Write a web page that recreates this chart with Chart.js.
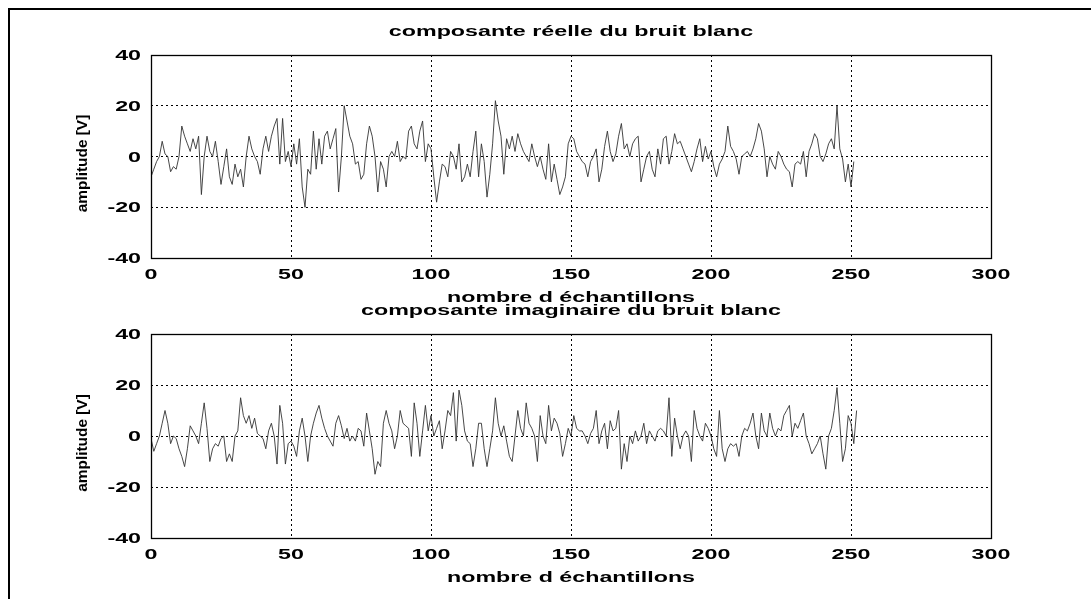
<!DOCTYPE html>
<html>
<head>
<meta charset="utf-8">
<script src="https://cdn.jsdelivr.net/npm/chart.js@4/dist/chart.umd.min.js"></script>
<style>
  html, body { margin: 0; padding: 0; background: #fff; overflow: hidden; }
  #page { position: relative; width: 1091px; height: 599px; }
  #frame { position: absolute; left: 8px; top: 8px; width: 1200px; height: 700px;
           border-left: 2px solid #000; border-top: 2px solid #000; }
  canvas { position: absolute; left: 0; }
  #realCanvas { top: 0; }
  #imagCanvas { top: 300px; }
</style>
</head>
<body>
<div id="page">
  <div id="frame"></div>
  <canvas id="realCanvas" width="1091" height="310"></canvas>
  <canvas id="imagCanvas" width="1091" height="299"></canvas>
</div>
<script>
// white noise samples, real and imaginary components
const realPart = [
  -8, -5, -2, 0, 6, 1, 0, -6, -4, -5,
  0, 12, 8, 5, 2, 7, 3, 8, -15, 0,
  8, 2, 0, 6, -2, -11, -4, 3, -8, -11,
  -3, -8, -5, -12, 0, 8, 3, 0, -2, -7,
  3, 8, 2, 8, 12, 15, -3, 15, -2, 2,
  -4, 5, -3, 7, -12, -20, -5, -7, 10, -5,
  7, -3, 8, 10, 3, 7, 11, -14, 0, 20,
  14, 8, 5, -3, -2, -9, -7, 5, 12, 8,
  0, -14, -2, -5, -12, 0, 2, 0, 6, -2,
  0, -1, 10, 12, 5, 3, 10, 14, -2, 5,
  3, -8, -18, -10, -3, -4, -8, 2, 0, -5,
  5, -10, -8, -3, -8, 2, 10, -8, 5, -2,
  -16, -7, 5, 22, 14, 8, -7, 7, 3, 8,
  2, 9, 5, 2, 0, -2, 5, 0, -4, 0,
  -5, -9, 5, -10, -3, -9, -15, -12, -8, 5,
  8, 7, 2, 0, -2, -3, -8, -2, 0, 3,
  -10, -5, 4, 10, 2, -2, 1, 8, 13, 3,
  5, 0, 5, 7, 8, -10, -5, 0, 2, -5,
  -8, 3, -3, 7, 8, -3, 2, 9, 5, 6,
  3, 0, -3, -6, -2, 3, 7, -2, 4, -1,
  2, -4, -8, -3, -1, 2, 12, 4, 2, -1,
  -7, 0, 1, 2, 0, 3, 7, 13, 10, 3,
  -8, 0, -3, -5, 2, 0, -3, -5, -6, -12,
  -3, -2, -3, 2, -8, 2, 5, 9, 7, 0,
  -2, 1, 5, 7, 3, 20, 3, -1, -10, -3,
  -12, -2
];

const imagPart = [
  -1, -6, -3, 0, 5, 10, 5, -3, 0, -1,
  -5, -8, -12, -5, 4, 2, 0, -3, 5, 13,
  3, -10, -5, -3, -4, -1, 0, -10, -7, -10,
  0, 2, 15, 8, 5, 8, 3, 7, 1, 0,
  -1, -5, 2, 5, 0, -11, 12, 5, -11, -3,
  -2, -4, -8, 2, 7, 0, -10, 0, 5, 9,
  12, 7, 3, 0, -2, -4, 5, 8, 4, -1,
  3, -2, 0, -2, 3, 2, -4, 9, 2, -5,
  -15, -10, -12, 5, 10, 5, 2, -5, 0, 10,
  5, 4, 3, -8, 13, 5, -8, 2, 12, 2,
  8, 0, 3, 6, -5, 2, 10, 8, 17, -2,
  18, 12, 2, -2, -3, -12, -5, 5, 5, -5,
  -12, -5, 2, 15, 5, 0, 4, -2, -8, -10,
  0, 10, 3, 0, 13, 5, 3, 0, -10, 8,
  0, -3, 12, 2, 7, 5, 1, -8, -3, 3,
  0, 8, 3, 2, 2, 0, -3, 1, 3, 10,
  -3, 2, 5, -5, 6, 2, 3, 10, -13, -3,
  -10, 0, -3, 2, -2, 0, 5, -3, 2, 0,
  -2, 2, 3, 2, 0, 15, -8, 7, 0, -5,
  0, 2, 0, -10, 10, 3, 0, -2, 5, 3,
  0, -5, -8, 10, -5, -10, -5, -3, -4, -3,
  -8, 0, 3, 2, 5, 9, 0, -5, 9, 2,
  0, 9, 3, 0, 3, 2, 8, 10, 12, 0,
  5, 3, 6, 9, 0, -3, -7, -5, -3, 0,
  -7, -13, 0, 3, 10, 19, 5, -10, -5, 8,
  5, -3, 10
];

const xTicks = [0, 50, 100, 150, 200, 250, 300];
const yTicks = [-40, -20, 0, 20, 40];

const titles = ['composante réelle du bruit blanc', 'composante imaginaire du bruit blanc'];
const xLabel = 'nombre d échantillons';
const yLabel = 'amplitude [V]';

const FONT = 'bold 15px "Liberation Sans", Arial, sans-serif';
const STRETCH = 1.55;

// text drawn wide, like the old plotting output
function wideText(ctx, text, x, y, align, baseline) {
    ctx.save();
    ctx.translate(x, y);
    ctx.scale(STRETCH, 1);
    ctx.font = FONT;
    ctx.fillStyle = '#000';
    ctx.textAlign = align;
    ctx.textBaseline = baseline;
    ctx.fillText(text, 0, 0);
    ctx.restore();
}

const axesDecor = {
    id: 'axesDecor',
    afterDraw(chart, args, opts) {
        const { ctx, chartArea: area, scales } = chart;

        // solid box round the plot
        ctx.save();
        ctx.strokeStyle = '#000';
        ctx.lineWidth = 1.3;
        ctx.strokeRect(Math.round(area.left) + 0.5, Math.round(area.top) + 0.5,
            Math.round(area.width), Math.round(area.height));
        ctx.restore();

        xTicks.forEach(v => {
            wideText(ctx, String(v), scales.x.getPixelForValue(v), area.bottom + 21, 'center', 'alphabetic');
        });
        yTicks.forEach(v => {
            wideText(ctx, String(v), area.left - 10, scales.y.getPixelForValue(v) + 1, 'right', 'middle');
        });

        const midX = (area.left + area.right) / 2;
        wideText(ctx, opts.title, midX, area.top - 19, 'center', 'alphabetic');
        wideText(ctx, xLabel, midX, area.bottom + 44, 'center', 'alphabetic');

        // rotated y label
        ctx.save();
        ctx.translate(83, (area.top + area.bottom) / 2 + 7);
        ctx.rotate(-Math.PI / 2);
        ctx.scale(1.1, 1);
        ctx.font = 'bold 14px "Liberation Sans", Arial, sans-serif';
        ctx.fillStyle = '#000';
        ctx.textAlign = 'center';
        ctx.textBaseline = 'middle';
        ctx.fillText(yLabel, 0, 0);
        ctx.restore();
    }
};

function makeChart(canvasId, values, title, padding) {
    const ctx = document.getElementById(canvasId).getContext('2d');
    return new Chart(ctx, {
        type: 'line',
        data: {
            datasets: [{
                data: values.map((v, i) => ({ x: i, y: v })),
                borderColor: '#333',
                borderWidth: 0.9,
                pointRadius: 0,
                tension: 0,
                fill: false
            }]
        },
        options: {
            responsive: false,
            animation: false,
            layout: { padding: padding },
            plugins: {
                legend: { display: false },
                tooltip: { enabled: false },
                axesDecor: { title: title }
            },
            scales: {
                x: {
                    type: 'linear',
                    min: 0,
                    max: 300,
                    ticks: { display: false, stepSize: 50 },
                    grid: { color: '#000', lineWidth: 1, drawTicks: false },
                    border: { display: false, dash: [2, 3] }
                },
                y: {
                    min: -40,
                    max: 40,
                    ticks: { display: false, stepSize: 20 },
                    grid: { color: '#000', lineWidth: 1, drawTicks: false },
                    border: { display: false, dash: [2, 3] }
                }
            }
        },
        plugins: [axesDecor]
    });
}

makeChart('realCanvas', realPart, titles[0], { left: 151, top: 55, right: 100, bottom: 52 });
makeChart('imagCanvas', imagPart, titles[1], { left: 151, top: 34, right: 100, bottom: 61 });
</script>
</body>
</html>
